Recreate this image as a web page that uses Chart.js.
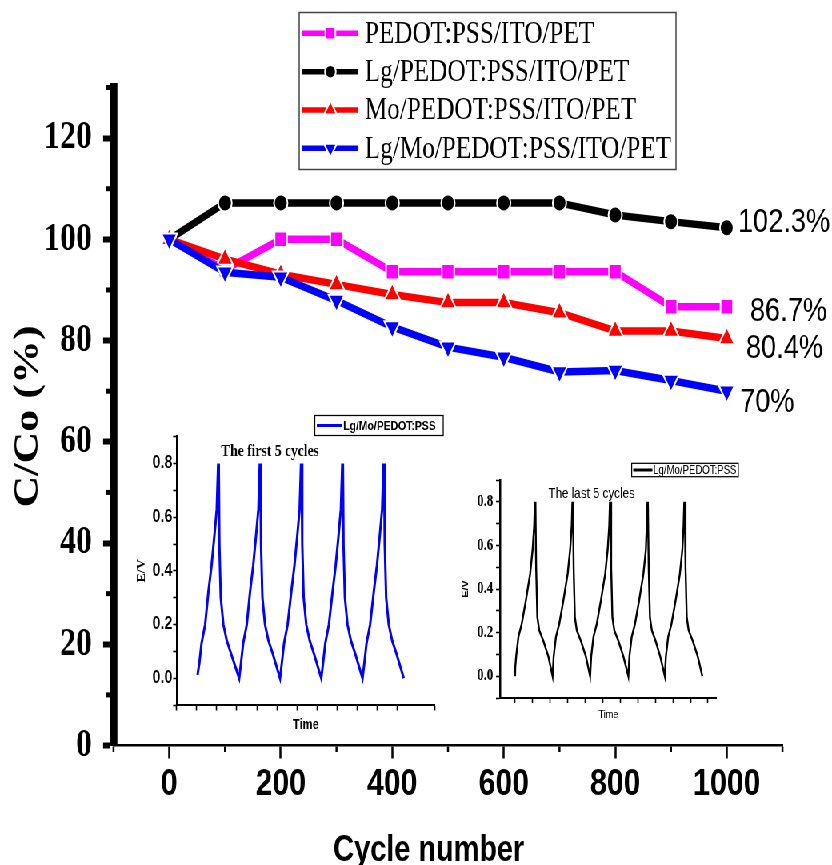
<!DOCTYPE html>
<html>
<head>
<meta charset="utf-8">
<script src="https://cdn.jsdelivr.net/npm/chart.js@4/dist/chart.umd.min.js"></script>
<style>
  html, body { margin: 0; padding: 0; background: #fff; overflow: hidden; }
  #stage { position: absolute; left: 0; top: 0; width: 1040px; height: 865px;
           transform: scaleX(0.8); transform-origin: 0 0; }
  #stage canvas { position: absolute; }
</style>
</head>
<body>
<div id="stage">
  <canvas id="main" width="1040" height="865" style="left:0;top:0;width:1040px;height:865px"></canvas>
  <canvas id="first" width="413" height="335" style="left:150px;top:405px;width:413px;height:335px"></canvas>
  <canvas id="last" width="363" height="275" style="left:569px;top:455px;width:363px;height:275px"></canvas>
</div>
<script>
// ---- capacitance retention over cycling ----
const cycles = [0, 100, 200, 300, 400, 500, 600, 700, 800, 900, 1000];
const pedotItoPet   = [100, 94, 100, 100, 93.6, 93.6, 93.6, 93.6, 93.6, 86.7, 86.7];
const lgPedot       = [100, 107.2, 107.2, 107.2, 107.2, 107.2, 107.2, 107.2, 104.8, 103.5, 102.3];
const moPedot       = [100, 96.1, 93.1, 91.1, 89.1, 87.5, 87.5, 85.5, 81.9, 81.9, 80.4];
const lgMoPedot     = [100, 93.5, 92.5, 87.9, 82.7, 78.7, 76.7, 73.8, 74.1, 72.1, 70];
const seriesNames   = ['PEDOT:PSS/ITO/PET', 'Lg/PEDOT:PSS/ITO/PET', 'Mo/PEDOT:PSS/ITO/PET', 'Lg/Mo/PEDOT:PSS/ITO/PET'];
const yTickLabels   = [0, 20, 40, 60, 80, 100, 120];
const xTickLabels   = [0, 200, 400, 600, 800, 1000];
const yAxisTitle    = 'C/Co (%)';
const xAxisTitle    = 'Cycle number';

// ---- galvanostatic charge/discharge, first 5 cycles ----
const firstTime = [
  52, 56.5, 62, 71, 79, 87, 94, 100, 103.5, 104.3, 105, 106.5, 110, 116.5, 125, 136, 147, 156,
  160.5, 166, 175, 183, 191, 198, 204, 207.5, 208.3, 209, 210.5, 214, 220.5, 229, 240, 250, 258,
  262.5, 268, 277, 286, 294, 301, 307, 310.5, 311.3, 312, 313.5, 317, 323.5, 332, 343, 353, 361,
  365.5, 371, 380, 389, 397, 404, 410, 413.5, 414.3, 415, 416.5, 420, 426.5, 435, 446, 456, 464,
  468.5, 474, 483, 492, 500, 507, 513, 516.5, 517.3, 518, 519.5, 523, 529.5, 538, 549, 559, 567
];
const firstVoltage = [
  0.012, 0.056, 0.13, 0.20, 0.32, 0.42, 0.53, 0.63, 0.80, 0.70, 0.80, 0.50, 0.30, 0.20, 0.14, 0.09, 0.04, 0.0,
  0.056, 0.13, 0.20, 0.32, 0.42, 0.53, 0.63, 0.80, 0.70, 0.80, 0.50, 0.30, 0.20, 0.14, 0.09, 0.04, 0.0,
  0.056, 0.13, 0.20, 0.32, 0.42, 0.53, 0.63, 0.80, 0.70, 0.80, 0.50, 0.30, 0.20, 0.14, 0.09, 0.04, 0.0,
  0.056, 0.13, 0.20, 0.32, 0.42, 0.53, 0.63, 0.80, 0.70, 0.80, 0.50, 0.30, 0.20, 0.14, 0.09, 0.04, 0.0,
  0.056, 0.13, 0.20, 0.32, 0.42, 0.53, 0.63, 0.80, 0.70, 0.80, 0.50, 0.30, 0.20, 0.14, 0.09, 0.04, 0.0
];

// ---- galvanostatic charge/discharge, last 5 cycles ----
const lastTime = [
  0, 0.5, 3, 9.5, 19, 31, 43, 50, 54.5, 56.5, 57.3, 58, 60, 63.5, 69, 81, 95, 107,
  110, 116.5, 126, 138, 150, 157, 161.5, 163.5, 164.3, 165, 167, 170.5, 176, 188, 202, 214,
  217, 223.5, 233, 245, 257, 264, 268.5, 270.5, 271.3, 272, 274, 277.5, 283, 295, 309, 323,
  326, 332.5, 342, 354, 366, 373, 375.5, 377.5, 378.3, 379, 381, 384.5, 390, 401, 414, 427,
  430, 436.5, 446, 458, 470, 477, 480.5, 482.5, 483.3, 484, 486, 489.5, 495, 507, 521, 534
];
const lastVoltage = [
  0.0, 0.04, 0.09, 0.18, 0.24, 0.35, 0.47, 0.58, 0.69, 0.80, 0.70, 0.80, 0.50, 0.27, 0.21, 0.16, 0.09, 0.0,
  0.09, 0.18, 0.24, 0.35, 0.47, 0.58, 0.69, 0.80, 0.70, 0.80, 0.50, 0.27, 0.21, 0.16, 0.09, 0.0,
  0.09, 0.18, 0.24, 0.35, 0.47, 0.58, 0.69, 0.80, 0.70, 0.80, 0.50, 0.27, 0.21, 0.16, 0.09, 0.0,
  0.09, 0.18, 0.24, 0.35, 0.47, 0.58, 0.69, 0.80, 0.70, 0.80, 0.50, 0.27, 0.21, 0.16, 0.09, 0.0,
  0.09, 0.18, 0.24, 0.35, 0.47, 0.58, 0.69, 0.80, 0.70, 0.80, 0.50, 0.27, 0.21, 0.16, 0.09, 0.0
];
const lastTimeTicks = [0, 50, 100, 150, 200, 250, 300, 350, 400, 450, 500, 550];
const voltageTickLabels = [0, 0.2, 0.4, 0.6, 0.8];
const insetSeriesName = 'Lg/Mo/PEDOT:PSS';

// ---------------------------------------------------------------
function hasFont(name) {
  const c = document.createElement('canvas').getContext('2d');
  const probe = 'Cycle number 0123456789';
  c.font = '40px monospace';
  const a = c.measureText(probe).width;
  c.font = '40px "' + name + '", monospace';
  return Math.abs(c.measureText(probe).width - a) > 0.5;
}
const SERIF = '"Liberation Serif", "Times New Roman", serif';
const SANS = '"Liberation Sans", Arial, sans-serif';
const NARROW = hasFont('Liberation Sans Narrow')
  ? '"Liberation Sans Narrow", "Arial Narrow", sans-serif'
  : SANS;
const narrowK = NARROW === SANS ? 0.86 : 1;

const pts = (xs, ys) => xs.map((x, i) => ({ x, y: ys[i] }));
const isLabelled = (list, v) => list.some(t => Math.abs(t - v) < 1e-6);

function markerPath(ctx, style, x, y, r, rotation) {
  ctx.beginPath();
  if (style === 'rect') {
    const h = r * Math.SQRT1_2;
    ctx.rect(x - h, y - h, 2 * h, 2 * h);
  } else if (style === 'circle') {
    ctx.arc(x, y, r, 0, Math.PI * 2);
  } else {
    let a = (rotation || 0) * Math.PI / 180;
    for (let k = 0; k < 3; k++) {
      const px = x + Math.sin(a) * r, py = y - Math.cos(a) * r;
      k ? ctx.lineTo(px, py) : ctx.moveTo(px, py);
      a += 2 * Math.PI / 3;
    }
  }
  ctx.closePath();
}

// small ticks between the labelled ones
const minorTicks = {
  id: 'minorTicks',
  afterDraw(chart) {
    const { ctx, chartArea } = chart;
    const xs = chart.scales.x, ys = chart.scales.y;
    ctx.save();
    ctx.strokeStyle = '#000';
    ctx.lineWidth = 5;
    ys.ticks.forEach(t => {
      if (isLabelled(yTickLabels, t.value)) return;
      const y = ys.getPixelForValue(t.value);
      const x0 = chartArea.left - 4.4;
      ctx.beginPath(); ctx.moveTo(x0, y); ctx.lineTo(x0 - 4.5, y); ctx.stroke();
    });
    ctx.lineWidth = 2.5;
    xs.ticks.forEach(t => {
      if (isLabelled(xTickLabels, t.value)) return;
      const x = xs.getPixelForValue(t.value);
      ctx.beginPath(); ctx.moveTo(x, chartArea.bottom + 1); ctx.lineTo(x, chartArea.bottom + 6.5); ctx.stroke();
    });
    ctx.restore();
  }
};

// framed legend with line + symbol samples
const legendBox = {
  id: 'legendBox',
  afterDraw(chart) {
    const { ctx } = chart;
    ctx.save();
    ctx.strokeStyle = '#444';
    ctx.lineWidth = 1.5;
    ctx.strokeRect(374, 12.5, 471, 157);
    const rows = [33.3, 71.7, 110, 148.3];
    chart.data.datasets.forEach((ds, i) => {
      const y = rows[i];
      ctx.strokeStyle = ds.borderColor;
      ctx.lineWidth = 5.5;
      ctx.beginPath(); ctx.moveTo(378, y); ctx.lineTo(448, y); ctx.stroke();
      ctx.fillStyle = ds.borderColor;
      ctx.strokeStyle = '#fff';
      ctx.lineWidth = 2;
      markerPath(ctx, ds.pointStyle, 413, y, ds.pointRadius * 0.8, ds.pointRotation);
      ctx.fill(); ctx.stroke();
      ctx.fillStyle = '#000';
      ctx.font = '31.5px ' + SERIF;
      ctx.textAlign = 'left';
      ctx.textBaseline = 'middle';
      ctx.fillText(ds.label, 456, y + 1);
    });
    ctx.restore();
  }
};

// retention value written next to the last point of each series
const endLabelStyle = [
  { dx: 29, dy: 5 },
  { dx: 14, dy: -5.2 },
  { dx: 24, dy: 9.7 },
  { dx: 16.6, dy: 11.3 }
];
const endLabels = {
  id: 'endLabels',
  afterDatasetsDraw(chart) {
    const { ctx } = chart;
    ctx.save();
    ctx.fillStyle = '#000';
    ctx.font = '34px ' + SANS;
    ctx.textAlign = 'left';
    ctx.textBaseline = 'middle';
    chart.data.datasets.forEach((ds, i) => {
      const meta = chart.getDatasetMeta(i);
      const last = meta.data[meta.data.length - 1];
      const v = ds.data[ds.data.length - 1].y;
      ctx.fillText(v + '%', last.x + endLabelStyle[i].dx, last.y + endLabelStyle[i].dy);
    });
    ctx.restore();
  }
};

const xCaption = {
  id: 'xCaption',
  afterDraw(chart) {
    const { ctx } = chart;
    ctx.save();
    ctx.fillStyle = '#000';
    ctx.font = 'bold ' + (42 * narrowK) + 'px ' + NARROW;
    ctx.textAlign = 'center';
    ctx.textBaseline = 'alphabetic';
    ctx.fillText(xAxisTitle, 536, 861);
    ctx.restore();
  }
};

const colors = ['#ff00ff', '#000000', '#ff0000', '#0000ff'];
const lineSet = (i, values, style, radius, rotation, order) => ({
  label: seriesNames[i],
  data: pts(cycles, values),
  borderColor: colors[i],
  backgroundColor: colors[i],
  pointBackgroundColor: colors[i],
  pointBorderColor: '#ffffff',
  pointBorderWidth: 2,
  pointStyle: style,
  pointRadius: radius,
  pointHoverRadius: radius,
  pointRotation: rotation,
  borderWidth: 7.5,
  tension: 0,
  fill: false,
  order
});

new Chart(document.getElementById('main'), {
  type: 'line',
  data: {
    datasets: [
      lineSet(0, pedotItoPet, 'rect', 11, 0, 3),
      lineSet(1, lgPedot, 'circle', 8.5, 0, 2),
      lineSet(2, moPedot, 'triangle', 11.5, 0, 1),
      lineSet(3, lgMoPedot, 'triangle', 11.5, 180, 0)
    ]
  },
  options: {
    responsive: false,
    animation: false,
    layout: { padding: { top: 87.5, right: 61.9, left: 0, bottom: 0 } },
    plugins: { legend: { display: false }, tooltip: { enabled: false } },
    scales: {
      x: {
        type: 'linear', min: -100, max: 1100,
        afterFit: s => { s.height = 119.5; },
        ticks: {
          stepSize: 100, autoSkip: false, maxRotation: 0, minRotation: 0,
          color: '#000', padding: 7,
          font: { family: NARROW, size: 44 * narrowK, weight: 'bold', lineHeight: 1 },
          callback: v => isLabelled(xTickLabels, v) ? String(v) : ''
        },
        grid: {
          drawOnChartArea: false, drawTicks: true, tickLength: 13, tickWidth: 2.5,
          tickColor: c => (c.tick && isLabelled(xTickLabels, c.tick.value)) ? '#000' : 'rgba(0,0,0,0)'
        },
        border: { display: true, color: '#000', width: 2.5 }
      },
      y: {
        type: 'linear', min: 0, max: 130,
        afterFit: s => { s.width = 141.9; },
        ticks: {
          stepSize: 10, autoSkip: false, color: '#000', padding: 14,
          font: { family: SERIF, size: 40, weight: 'bold', lineHeight: 1 },
          callback: v => isLabelled(yTickLabels, v) ? String(v) : ''
        },
        grid: {
          drawOnChartArea: false, drawTicks: true, tickLength: 13, tickWidth: 6,
          tickColor: c => (c.tick && isLabelled(yTickLabels, c.tick.value)) ? '#000' : 'rgba(0,0,0,0)'
        },
        border: { display: true, color: '#000', width: 8.75 },
        title: {
          display: true, text: yAxisTitle, color: '#000',
          font: { family: SERIF, size: 44, weight: 'bold', lineHeight: 1 },
          padding: { top: 14, bottom: 0 }
        }
      }
    }
  },
  plugins: [minorTicks, legendBox, endLabels, xCaption]
});

// ---- inset decorations: framed legend and caption ----
function insetDecor(cfg) {
  return {
    id: 'insetDecor',
    afterDraw(chart) {
      const { ctx } = chart;
      ctx.save();
      ctx.strokeStyle = '#000';
      ctx.lineWidth = 1.25;
      ctx.strokeRect(cfg.box[0], cfg.box[1], cfg.box[2], cfg.box[3]);
      ctx.strokeStyle = cfg.color;
      ctx.lineWidth = 3;
      ctx.beginPath(); ctx.moveTo(cfg.line[0], cfg.line[2]); ctx.lineTo(cfg.line[1], cfg.line[2]); ctx.stroke();
      ctx.fillStyle = '#000';
      ctx.font = cfg.legendFont;
      ctx.textAlign = 'left';
      ctx.textBaseline = 'middle';
      ctx.fillText(chart.data.datasets[0].label, cfg.text[0], cfg.text[1]);
      ctx.font = cfg.captionFont;
      ctx.textAlign = 'center';
      ctx.fillText(cfg.caption, cfg.captionAt[0], cfg.captionAt[1]);
      ctx.restore();
    }
  };
}

const voltageLabel = v => {
  const k = Math.round(v * 10) / 10;
  return isLabelled(voltageTickLabels, k) ? k.toFixed(1) : '';
};

new Chart(document.getElementById('first'), {
  type: 'scatter',
  data: {
    datasets: [{
      label: insetSeriesName,
      data: pts(firstTime, firstVoltage),
      showLine: true, borderColor: '#0000ff', borderWidth: 3,
      pointRadius: 0, pointHoverRadius: 0, tension: 0
    }]
  },
  options: {
    responsive: false, animation: false,
    layout: { padding: { top: 31.7, right: 19.25, left: 0, bottom: 0 } },
    plugins: { legend: { display: false }, tooltip: { enabled: false } },
    scales: {
      x: {
        type: 'linear', min: 0, max: 645,
        afterFit: s => { s.height = 35; },
        ticks: { stepSize: 50, autoSkip: false, maxRotation: 0, callback: () => '' },
        grid: { drawOnChartArea: false, tickLength: 5.5, tickWidth: 1.6, tickColor: '#000' },
        border: { color: '#000', width: 2 },
        title: {
          display: true, text: 'Time', color: '#000',
          font: { family: SANS, size: 14, weight: 'bold', lineHeight: 1 },
          padding: { top: 0, bottom: 8 }
        }
      },
      y: {
        type: 'linear', min: -0.1, max: 0.9,
        afterFit: s => { s.width = 70.9; },
        ticks: {
          stepSize: 0.1, autoSkip: false, color: '#000', padding: 1,
          font: { family: SANS, size: 18, weight: 'bold', lineHeight: 1 },
          callback: voltageLabel
        },
        grid: { drawOnChartArea: false, tickLength: 4.5, tickWidth: 1.6, tickColor: '#000' },
        border: { color: '#000', width: 2.5 },
        title: {
          display: true, text: 'E/V', color: '#000',
          font: { family: SERIF, size: 14, weight: 'bold', lineHeight: 1 },
          padding: { top: 20, bottom: 0 }
        }
      }
    }
  },
  plugins: [insetDecor({
    box: [243.5, 10.5, 160.5, 20],
    line: [246, 277, 20.5],
    text: [279, 21],
    color: '#0000ff',
    legendFont: 'bold 13px ' + SANS,
    caption: 'The first 5 cycles',
    captionFont: 'bold 17px ' + SERIF,
    captionAt: [187.5, 46.5]
  })]
});

new Chart(document.getElementById('last'), {
  type: 'scatter',
  data: {
    datasets: [{
      label: insetSeriesName,
      data: pts(lastTime, lastVoltage),
      showLine: true, borderColor: '#000000', borderWidth: 2.4,
      pointRadius: 0, pointHoverRadius: 0, tension: 0
    }]
  },
  options: {
    responsive: false, animation: false,
    layout: { padding: { top: 25, right: 36.1, left: 0, bottom: 0 } },
    plugins: { legend: { display: false }, tooltip: { enabled: false } },
    scales: {
      x: {
        type: 'linear', min: -43, max: 575,
        afterFit: s => { s.height = 32; },
        afterBuildTicks: s => { s.ticks = lastTimeTicks.map(v => ({ value: v })); },
        ticks: { autoSkip: false, maxRotation: 0, callback: () => '' },
        grid: { drawOnChartArea: false, tickLength: 5, tickWidth: 1.6, tickColor: '#000' },
        border: { color: '#000', width: 2 },
        title: {
          display: true, text: 'Time', color: '#000',
          font: { family: SANS, size: 11.5, weight: 'normal', lineHeight: 1 },
          padding: { top: 0, bottom: 9.5 }
        }
      },
      y: {
        type: 'linear', min: -0.1, max: 0.9,
        afterFit: s => { s.width = 56; },
        ticks: {
          stepSize: 0.1, autoSkip: false, color: '#000', padding: 3.4,
          font: { family: SERIF, size: 16, weight: 'bold', lineHeight: 1 },
          callback: voltageLabel
        },
        grid: { drawOnChartArea: false, tickLength: 5, tickWidth: 1.6, tickColor: '#000' },
        border: { color: '#000', width: 2.5 },
        title: {
          display: true, text: 'E/V', color: '#000',
          font: { family: SANS, size: 11, weight: 'bold', lineHeight: 1 },
          padding: { top: 7, bottom: 0 }
        }
      }
    }
  },
  plugins: [insetDecor({
    box: [220.6, 8.3, 133.3, 13.4],
    line: [222.5, 246.5, 15],
    text: [247.5, 15.3],
    color: '#000000',
    legendFont: '12px ' + SANS,
    caption: 'The last 5 cycles',
    captionFont: '14.5px ' + SANS,
    captionAt: [170.6, 38.5]
  })]
});
</script>
</body>
</html>
